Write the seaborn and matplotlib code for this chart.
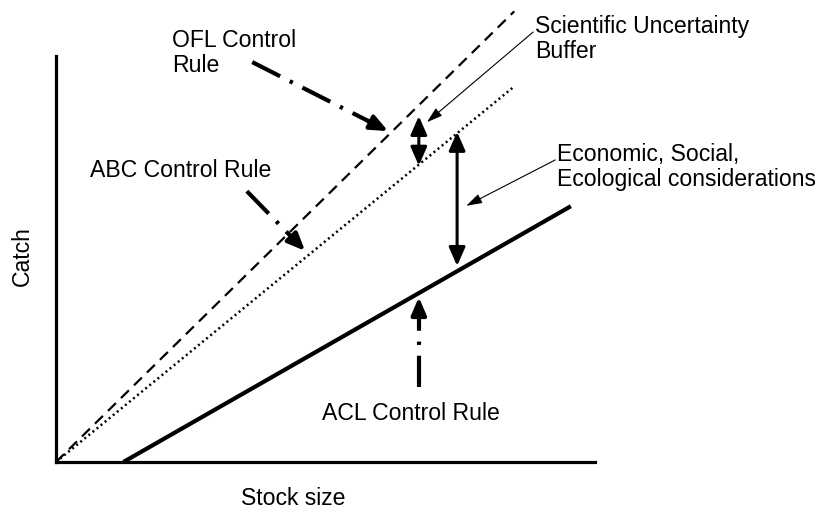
import matplotlib
matplotlib.use("Agg")
import matplotlib.pyplot as plt
import seaborn as sns
import pandas as pd

sns.set_theme(style="white")
plt.rcParams["font.family"] = ["Liberation Sans", "DejaVu Sans"]
plt.rcParams["text.color"] = "black"

# ---- data (conceptual control-rule diagram, axis units 0..10) ----
ofl_stock = [0.0, 8.5]
ofl_catch = [0.0, 11.1]
abc_stock = [0.0, 8.5]
abc_catch = [0.0, 9.25]
acl_stock = [1.25, 9.55]
acl_catch = [0.0, 6.3]

# double-headed buffer arrows: (x, y_top, y_bottom)
sci_buffer = (6.73, 8.52, 7.3)
econ_buffer = (7.44, 8.13, 4.83)

# dash-dot label pointers: (x_from, y_from, x_to, y_to)
ofl_pointer = (3.64, 9.85, 6.16, 8.15)
abc_pointer = (3.54, 6.67, 4.62, 5.20)
acl_pointer = (6.73, 1.85, 6.73, 4.06)

# thin pointers from text
sci_thin = (8.85, 10.59, 6.88, 8.37)
econ_thin = (9.26, 7.44, 7.61, 6.31)

labels = {
    "ofl": "OFL Control\nRule",
    "abc": "ABC Control Rule",
    "acl": "ACL Control Rule",
    "sci": "Scientific Uncertainty\nBuffer",
    "econ": "Economic, Social,\nEcological considerations",
}
x_label = "Stock size"
y_label = "Catch"

# ---- figure ----
fig = plt.figure(figsize=(8.28, 5.10), dpi=100)
ax = fig.add_axes([0, 0, 1, 1])
ax.set_xlim(-1.039, 14.32)
ax.set_ylim(-1.158, 11.404)

df_ofl = pd.DataFrame({"stock": ofl_stock, "catch": ofl_catch})
df_abc = pd.DataFrame({"stock": abc_stock, "catch": abc_catch})
df_acl = pd.DataFrame({"stock": acl_stock, "catch": acl_catch})

sns.lineplot(data=df_ofl, x="stock", y="catch", ax=ax, color="black",
             lw=1.6, ls=(0, (5, 3.2)))
sns.lineplot(data=df_abc, x="stock", y="catch", ax=ax, color="black",
             lw=1.8, ls=(0, (0.8, 1.3)))
sns.lineplot(data=df_acl, x="stock", y="catch", ax=ax, color="black",
             lw=3.0, solid_capstyle="butt")

ax.set_xlabel("")
ax.set_ylabel("")
ax.set_xticks([])
ax.set_yticks([])
for s in ["top", "right"]:
    ax.spines[s].set_visible(False)
ax.spines["left"].set_position(("data", 0))
ax.spines["bottom"].set_position(("data", 0))
ax.spines["left"].set_bounds(0, 10)
ax.spines["bottom"].set_bounds(0, 10)
for s in ["left", "bottom"]:
    ax.spines[s].set_linewidth(2.3)
    ax.spines[s].set_color("black")
    ax.spines[s].set_capstyle("projecting")

# double-headed arrows
for (x, yt, yb) in [sci_buffer, econ_buffer]:
    ax.annotate("", xy=(x, yt), xytext=(x, yb),
                arrowprops=dict(arrowstyle="<|-|>,head_length=0.75,head_width=0.33",
                                lw=2.2, color="black", shrinkA=0, shrinkB=0,
                                mutation_scale=15))

# dash-dot pointers with arrowheads
for (x0, y0, x1, y1) in [ofl_pointer, abc_pointer, acl_pointer]:
    ax.plot([x0, x0 + (x1 - x0) * 0.93], [y0, y0 + (y1 - y0) * 0.93],
            color="black", lw=3.0, ls=(0, (7.5, 2.6, 0.8, 2.6)),
            solid_capstyle="butt", dash_capstyle="butt")
    ax.annotate("", xy=(x1, y1),
                xytext=(x0 + (x1 - x0) * 0.85, y0 + (y1 - y0) * 0.85),
                arrowprops=dict(arrowstyle="-|>,head_length=0.7,head_width=0.3",
                                lw=3.0, color="black", shrinkA=0, shrinkB=0,
                                mutation_scale=15))

# thin pointers
for (x0, y0, x1, y1) in [sci_thin, econ_thin]:
    ax.annotate("", xy=(x1, y1), xytext=(x0, y0),
                arrowprops=dict(arrowstyle="-|>,head_length=0.8,head_width=0.25",
                                lw=0.8, color="black", shrinkA=0, shrinkB=0,
                                mutation_scale=12))

fs = 16.6
tc = "black"
ax.text(2.15, 10.69, labels["ofl"], fontsize=fs, va="top", ha="left", linespacing=1.1, color=tc)
ax.text(0.63, 7.49, labels["abc"], fontsize=fs, va="top", ha="left", color=tc)
ax.text(4.94, 1.50, labels["acl"], fontsize=fs, va="top", ha="left", color=tc)
ax.text(8.89, 11.03, labels["sci"], fontsize=fs, va="top", ha="left", linespacing=1.1, color=tc)
ax.text(9.29, 7.88, labels["econ"], fontsize=fs, va="top", ha="left", linespacing=1.1, color=tc)
ax.text(4.4, -0.60, x_label, fontsize=fs, va="top", ha="center", color=tc)
ax.text(-0.62, 5.1, y_label, fontsize=fs, va="center", ha="center", rotation=90, color=tc)

fig.savefig("out.png", dpi=100)
